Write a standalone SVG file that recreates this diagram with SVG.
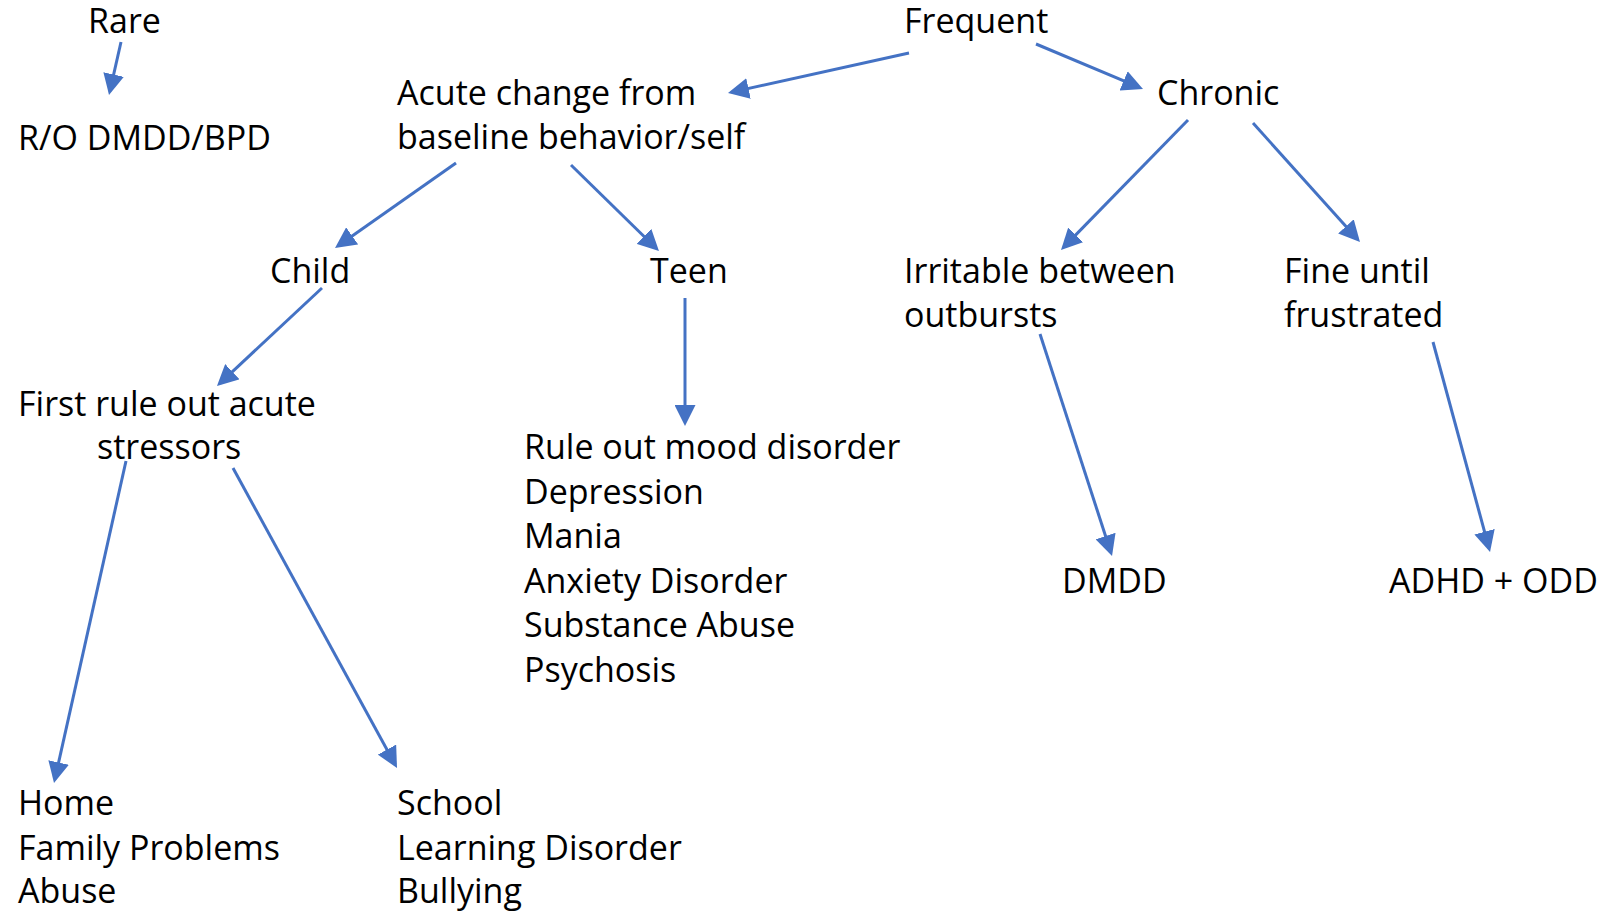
<svg xmlns="http://www.w3.org/2000/svg" width="1597" height="911" viewBox="0 0 1597 911">
<style>
text{font-family:"Open Sans","Noto Sans","Liberation Sans",sans-serif;font-size:34px;fill:#000}
.c line{stroke:#4472C4;stroke-width:3;marker-end:url(#ah)}
</style>
<defs>
<marker id="ah" markerUnits="userSpaceOnUse" markerWidth="21" markerHeight="21" refX="17" refY="10.5" orient="auto">
<path d="M0,0 L21,10.5 L0,21 z" fill="#4472C4"/>
</marker>
</defs>
<rect width="1597" height="911" fill="#fff"/>
<g id="rare"><text x="88" y="33">Rare</text></g>
<g id="ro"><text x="18" y="150">R/O DMDD/BPD</text></g>
<g id="frequent"><text x="904" y="33">Frequent</text></g>
<g id="acute"><text x="397" y="105">Acute change from</text><text x="397" y="149">baseline behavior/self</text></g>
<g id="chronic"><text x="1157" y="105">Chronic</text></g>
<g id="child"><text x="270" y="283">Child</text></g>
<g id="teen"><text x="650" y="283">Teen</text></g>
<g id="irritable"><text x="904" y="283">Irritable between</text><text x="904" y="327">outbursts</text></g>
<g id="fine"><text x="1284" y="283">Fine until</text><text x="1284" y="327">frustrated</text></g>
<g id="first"><text x="18" y="416">First rule out acute</text><text x="97" y="459">stressors</text></g>
<g id="mood"><text x="524" y="459">Rule out mood disorder</text><text x="524" y="504">Depression</text><text x="524" y="548">Mania</text><text x="524" y="593">Anxiety Disorder</text><text x="524" y="637">Substance Abuse</text><text x="524" y="682">Psychosis</text></g>
<g id="dmdd"><text x="1062" y="593">DMDD</text></g>
<g id="adhd"><text x="1389" y="593">ADHD + ODD</text></g>
<g id="home"><text x="18" y="815">Home</text><text x="18" y="860">Family Problems</text><text x="18" y="903">Abuse</text></g>
<g id="school"><text x="397" y="815">School</text><text x="397" y="860">Learning Disorder</text><text x="397" y="903">Bullying</text></g>
<g class="c" id="connectors">
<line x1="121" y1="42" x2="109.9" y2="91.1"/>
<line x1="909" y1="53" x2="731.9" y2="92.1"/>
<line x1="1036" y1="44" x2="1139.3" y2="87.4"/>
<line x1="456" y1="163" x2="338.3" y2="245.7"/>
<line x1="571" y1="165" x2="656.1" y2="248.2"/>
<line x1="685" y1="298" x2="685" y2="422"/>
<line x1="322" y1="288" x2="219.9" y2="383.3"/>
<line x1="126" y1="461" x2="54.9" y2="779.1"/>
<line x1="233" y1="468" x2="395.1" y2="764.5"/>
<line x1="1188" y1="120" x2="1063.8" y2="247.1"/>
<line x1="1253" y1="123" x2="1357.3" y2="239"/>
<line x1="1040" y1="334" x2="1110.8" y2="552.2"/>
<line x1="1433" y1="342" x2="1489" y2="548.1"/>
</g>
</svg>
